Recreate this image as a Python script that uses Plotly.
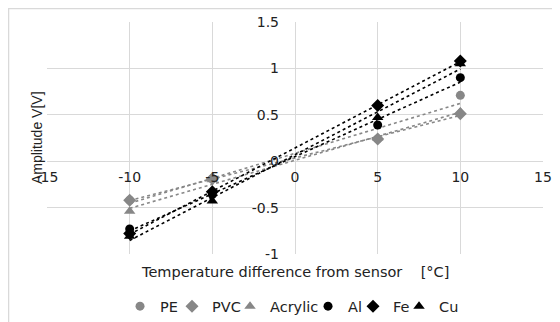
import numpy as np
import plotly.graph_objects as go

# ---- data ----
temps = [-10, -5, 5, 10]
pe = [-0.42, -0.19, 0.24, 0.71]
pvc = [-0.42, -0.19, 0.24, 0.51]
acrylic = [-0.54, -0.20, 0.25, 0.53]
al = [-0.73, -0.36, 0.39, 0.90]
fe = [-0.78, -0.33, 0.60, 1.08]
cu = [-0.81, -0.43, 0.47, 1.05]

series_names = ["PE", "PVC", "Acrylic", "Al", "Fe", "Cu"]
series_vals = [pe, pvc, acrylic, al, fe, cu]
x_ticks = [-15, -10, -5, 0, 5, 10, 15]
y_ticks = [-1, -0.5, 0, 0.5, 1, 1.5]
y_tick_text = ["-1", "-0.5", "0", "0.5", "1", "1.5"]

GRAY = "#878787"
BLACK = "#000000"
styles = {
    "PE": (GRAY, "circle", 9, 7),
    "PVC": (GRAY, "diamond", 10, 13),
    "Acrylic": (GRAY, "triangle-up", 10, 33),
    "Al": (BLACK, "circle", 9, 0.01),
    "Fe": (BLACK, "diamond", 10, 1),
    "Cu": (BLACK, "triangle-up", 10, 20),
}

fig = go.Figure()
xs = np.array(temps, dtype=float)
# linear trendlines (under markers)
for name, vals in zip(series_names, series_vals):
    col = styles[name][0]
    m, b = np.polyfit(xs, np.array(vals), 1)
    xl = np.array([xs.min(), xs.max()])
    fig.add_trace(go.Scatter(
        x=xl, y=m * xl + b, mode="lines",
        line=dict(color=col, width=1.6, dash="dot"),
        showlegend=False, hoverinfo="skip"))

for name, vals in zip(series_names, series_vals):
    col, sym, sz, lw = styles[name]
    fig.add_trace(go.Scatter(
        x=temps, y=vals, mode="markers", name=name, legendwidth=lw,
        marker=dict(color=col, symbol=sym, size=sz, line=dict(width=0))))

WIDE = "DejaVu Sans, sans-serif"
ARIAL = "Liberation Sans, Arial, sans-serif"
TXT = "#222222"
# page has an 8px body margin, so the figure is sized to fit the 560x322 window
fig.update_layout(
    width=552, height=314,
    margin=dict(l=39, r=17, t=14, b=68, autoexpand=False),
    paper_bgcolor="white", plot_bgcolor="white",
    font=dict(family=WIDE, size=14, color=TXT),
    showlegend=True,
    legend=dict(orientation="h", x=0.495, xanchor="center", y=-0.225, yanchor="middle",
                font=dict(family=WIDE, size=14.5, color=TXT), itemwidth=30,
                bgcolor="rgba(0,0,0,0)"),
    xaxis=dict(range=[-15, 15], tickvals=x_ticks, ticktext=[str(v) for v in x_ticks],
               showgrid=True, gridcolor="#d9d9d9", gridwidth=1,
               zeroline=False, showline=False, ticks="",
               anchor="free", position=0.4, ticklabelstandoff=6,
               tickfont=dict(family=WIDE, size=14, color=TXT), title=None),
    yaxis=dict(range=[-1, 1.5], tickvals=y_ticks, ticktext=y_tick_text,
               showgrid=True, gridcolor="#d9d9d9", gridwidth=1,
               zeroline=False, showline=False, ticks="",
               anchor="free", position=0.5, ticklabelstandoff=16,
               tickfont=dict(family=WIDE, size=14, color=TXT), title=None),
    shapes=[dict(type="rect", xref="paper", yref="paper",
                 x0=-0.0776, x1=1.2, y0=-0.5, y1=1.058,
                 line=dict(color="#d9d9d9", width=1.5), fillcolor="rgba(0,0,0,0)",
                 layer="below")],
    annotations=[
        dict(text="Temperature difference from sensor\u00a0\u00a0\u00a0\u00a0[°C]",
             xref="paper", yref="paper", x=0.5, y=-0.076, xanchor="center", yanchor="middle",
             showarrow=False, font=dict(family=WIDE, size=14.5, color=TXT)),
        dict(text="Amplitude V[V]", textangle=-90,
             xref="paper", yref="paper", x=-0.02, y=0.5, xanchor="center", yanchor="middle",
             showarrow=False, font=dict(family=ARIAL, size=14, color=TXT)),
    ],
)

fig.write_html("out.html")
